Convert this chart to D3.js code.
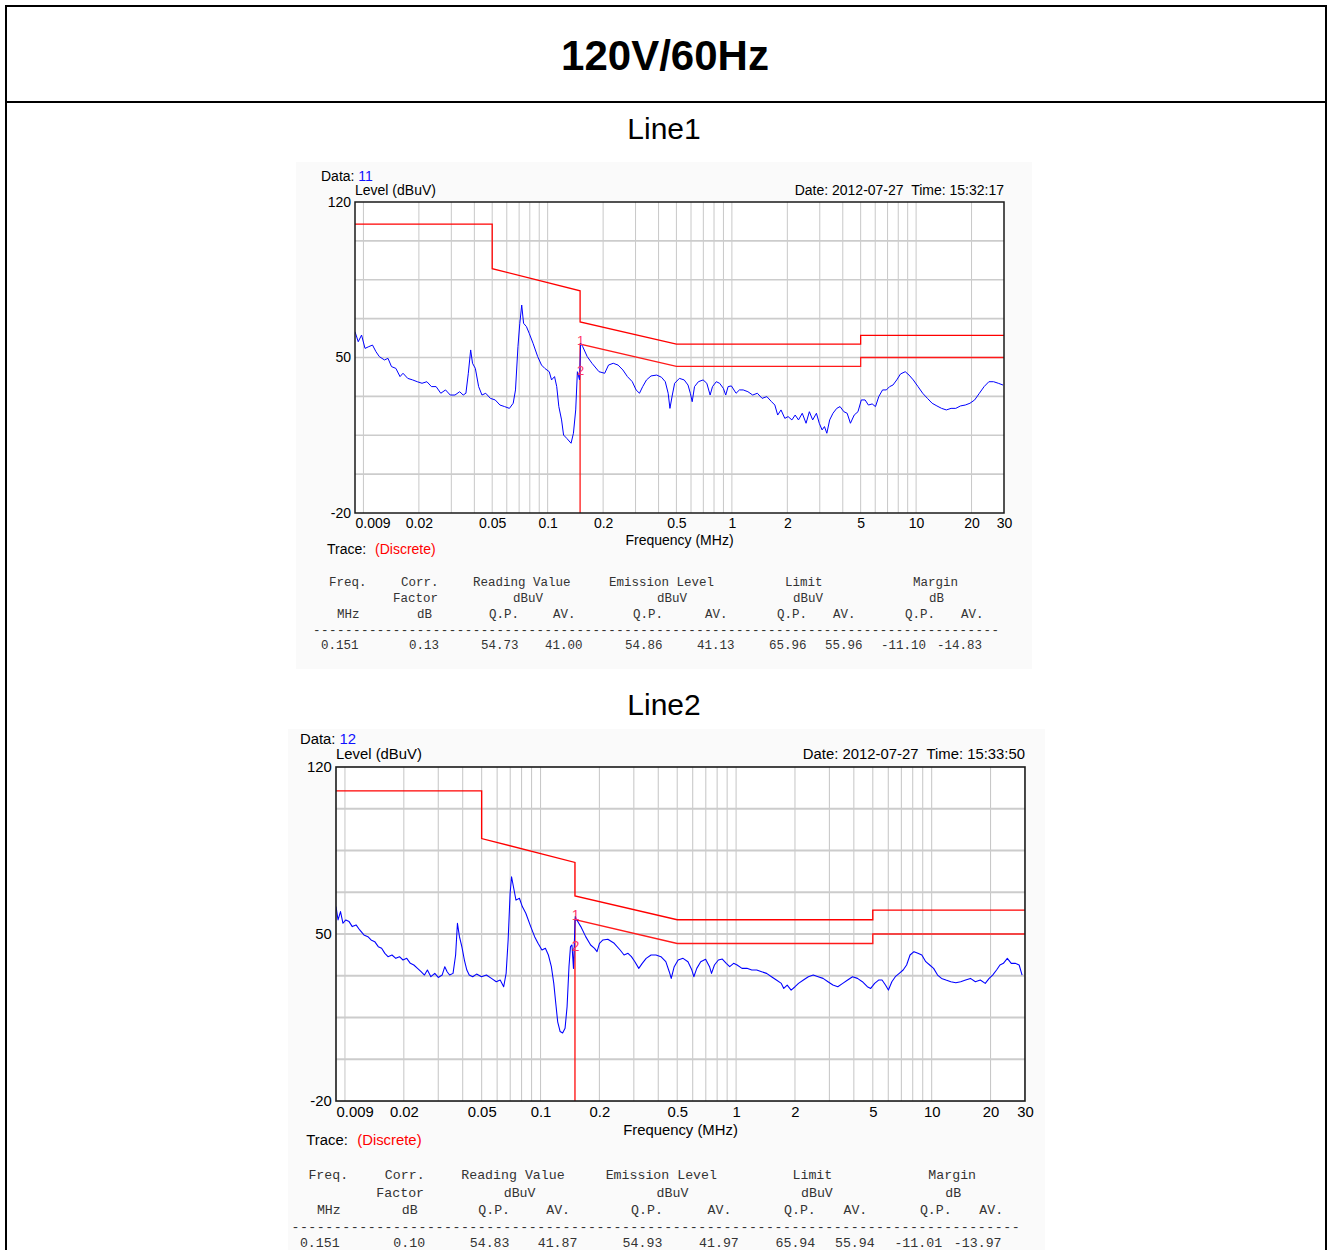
<!DOCTYPE html>
<html>
<head>
<meta charset="utf-8">
<script src="https://cdn.jsdelivr.net/npm/d3@7"></script>
<style>
body { margin: 0; background: #fff; }
</style>
</head>
<body>
<div id="chart"></div>
<script>
// ---- data ----
var trace1 = [
  [0.009,61.6],[0.00937,57.1],[0.00977,60.1],[0.0102,54.1],[0.0107,54.9],[0.0112,55.6],[0.0117,52.6],[0.0122,50.4],
  [0.0130,48.9],[0.0136,49.6],[0.0142,45.9],[0.0150,45.1],[0.0158,41.4],[0.0164,42.9],[0.0174,40.6],[0.0185,39.9],
  [0.0196,39.1],[0.0208,38.4],[0.0221,39.1],[0.0234,36.9],[0.0248,36.9],[0.0263,33.9],[0.0279,35.4],[0.0296,33.1],
  [0.0314,33.1],[0.0333,34.6],[0.0348,33.1],[0.0360,33.9],[0.0371,42.9],[0.0382,53.4],[0.0391,47.4],[0.0405,45.1],
  [0.0422,36.9],[0.0440,33.1],[0.0461,33.9],[0.0489,31.6],[0.0519,30.9],[0.0551,28.6],[0.0584,27.9],[0.0620,27.1],
  [0.0650,29.4],[0.0669,35.4],[0.0690,54.9],[0.0706,65.4],[0.0723,73.6],[0.0740,65.4],[0.0767,63.9],[0.0794,60.9],
  [0.0833,56.4],[0.0883,50.4],[0.0926,46.6],[0.0965,45.1],[0.102,43.6],[0.105,39.9],[0.109,41.4],[0.112,36.9],
  [0.115,27.9],[0.119,21.9],[0.122,15.1],[0.127,13.6],[0.134,11.4],[0.138,15.9],[0.142,26.4],[0.145,43.6],
  [0.149,39.9],[0.151,56.5],[0.155,54.9],[0.164,50.4],[0.174,47.4],[0.190,43.6],[0.204,42.9],[0.214,46.6],
  [0.227,47.4],[0.241,46.6],[0.256,44.4],[0.271,41.4],[0.288,39.1],[0.302,35.4],[0.315,33.9],[0.328,36.9],
  [0.344,39.9],[0.364,41.7],[0.391,42.1],[0.415,41.1],[0.435,39.1],[0.451,33.9],[0.461,27.1],[0.475,33.1],
  [0.489,38.4],[0.519,40.6],[0.551,39.9],[0.578,37.6],[0.595,33.9],[0.609,30.1],[0.627,36.9],[0.658,39.1],
  [0.698,39.9],[0.731,38.4],[0.762,33.1],[0.785,36.9],[0.823,39.1],[0.858,38.4],[0.899,36.1],[0.926,33.1],
  [0.954,36.9],[0.994,37.2],[1.054,33.9],[1.099,35.4],[1.152,35.4],[1.222,34.6],[1.297,33.1],[1.375,33.9],
  [1.459,31.6],[1.548,32.4],[1.642,30.1],[1.711,28.6],[1.773,24.1],[1.848,26.4],[1.938,22.6],[2.019,23.4],
  [2.117,21.9],[2.206,24.1],[2.299,21.9],[2.410,24.9],[2.527,20.4],[2.634,25.6],[2.745,21.9],[2.877,24.9],
  [2.981,20.4],[3.088,17.4],[3.181,18.9],[3.277,15.9],[3.395,21.9],[3.538,24.9],[3.709,27.1],[3.866,27.9],
  [4.053,25.6],[4.224,24.9],[4.401,20.4],[4.614,24.1],[4.837,25.6],[5.042,30.9],[5.285,30.9],[5.508,28.6],
  [5.775,29.1],[6.018,27.9],[6.272,32.4],[6.575,35.4],[6.894,35.4],[7.185,36.9],[7.488,37.6],[7.851,39.9],
  [8.231,42.6],[8.730,43.6],[9.153,42.1],[9.652,39.9],[10.24,36.9],[10.86,33.9],[11.52,31.6],[12.22,29.4],
  [12.97,28.2],[13.75,27.1],[14.59,26.4],[15.48,27.1],[16.42,27.1],[17.42,28.2],[18.48,28.6],[19.60,29.4],
  [20.79,30.9],[22.06,33.9],[23.40,36.9],[24.83,39.1],[26.34,39.1],[27.94,38.4],[29.64,37.6]
];

var trace2 = [
  [0.009,61.5],[0.00922,55.9],[0.00949,59.4],[0.00977,54.5],[0.0101,55.9],[0.0105,55.2],[0.0109,53.1],[0.0114,53.8],
  [0.0119,51.7],[0.0125,49.6],[0.0131,48.9],[0.0136,47.5],[0.0142,46.8],[0.0148,44.7],[0.0154,44.0],[0.0160,41.9],
  [0.0166,40.5],[0.0174,41.2],[0.0182,39.8],[0.0190,40.5],[0.0198,39.1],[0.0207,39.8],[0.0216,37.7],[0.0225,37.0],
  [0.0235,35.6],[0.0245,34.2],[0.0255,32.8],[0.0264,34.9],[0.0275,32.1],[0.0288,33.5],[0.0300,31.8],[0.0314,32.8],
  [0.0324,36.3],[0.0333,34.2],[0.0343,32.8],[0.0357,33.5],[0.0368,41.2],[0.0376,54.5],[0.0385,48.9],[0.0396,44.7],
  [0.0408,39.1],[0.0420,34.9],[0.0432,32.8],[0.0450,32.1],[0.0471,33.2],[0.0499,32.1],[0.0529,32.8],[0.0561,31.4],
  [0.0594,30.0],[0.0622,30.7],[0.0648,27.9],[0.0667,33.5],[0.0683,47.5],[0.0699,67.0],[0.0711,74.0],[0.0727,69.8],
  [0.0749,64.2],[0.0780,65.0],[0.0807,61.5],[0.0841,58.7],[0.0891,53.1],[0.0933,48.9],[0.0971,46.1],[0.1017,43.3],
  [0.1059,44.0],[0.1097,41.2],[0.1136,36.3],[0.1169,29.3],[0.1197,20.9],[0.1224,13.2],[0.1260,9.1],[0.1297,8.5],
  [0.1335,10.5],[0.1367,19.5],[0.1398,36.3],[0.1423,44.7],[0.1448,45.4],[0.1474,35.6],[0.1505,57.3],[0.1534,55.9],
  [0.1607,53.1],[0.1702,48.9],[0.1804,45.4],[0.1889,44.0],[0.1945,42.6],[0.2002,46.1],[0.2085,47.5],[0.2209,47.8],
  [0.2381,46.1],[0.2553,43.3],[0.2674,41.2],[0.2801,41.9],[0.2916,40.5],[0.3037,38.4],[0.3180,35.6],[0.3312,37.7],
  [0.3469,39.8],[0.3675,41.2],[0.3895,41.2],[0.4127,40.5],[0.4372,38.4],[0.4553,34.2],[0.4660,31.4],[0.4826,36.3],
  [0.5054,39.1],[0.5355,39.8],[0.5674,38.4],[0.5941,34.9],[0.6080,32.1],[0.6295,35.6],[0.6593,38.4],[0.6985,39.4],
  [0.7315,36.3],[0.7487,33.5],[0.7750,37.0],[0.8119,39.1],[0.8504,39.5],[0.8907,37.7],[0.9275,36.3],[0.9714,37.7],
  [1.012,37.0],[1.072,35.6],[1.136,35.6],[1.203,34.9],[1.275,34.9],[1.351,34.2],[1.432,33.5],[1.517,32.1],
  [1.607,30.7],[1.703,29.3],[1.753,27.2],[1.825,28.6],[1.912,26.5],[2.002,27.9],[2.085,29.3],[2.209,30.7],
  [2.341,32.1],[2.480,32.8],[2.628,32.1],[2.784,31.4],[2.950,30.0],[3.126,28.6],[3.312,27.9],[3.510,29.3],
  [3.719,30.7],[3.940,32.1],[4.175,31.4],[4.423,30.0],[4.688,27.9],[4.880,27.2],[5.110,29.3],[5.353,30.7],
  [5.575,30.7],[5.805,28.6],[6.010,26.5],[6.258,30.0],[6.518,32.1],[6.827,33.5],[7.150,34.9],[7.445,37.0],
  [7.752,41.2],[8.120,42.6],[8.504,41.9],[8.906,41.2],[9.329,38.4],[9.770,37.0],[10.23,35.6],[10.72,32.8],
  [11.23,31.4],[11.83,30.7],[12.53,30.0],[13.28,29.6],[14.07,30.0],[14.91,30.7],[15.79,31.4],[16.73,30.0],
  [17.73,30.7],[18.79,29.3],[19.68,31.4],[20.50,32.8],[21.47,34.9],[22.35,37.0],[23.27,37.7],[24.37,39.8],
  [25.53,37.7],[26.74,37.7],[28.01,37.0],[29.00,32.8]
];

// limit lines (MHz, dBuV)
var qpLimit = [[0.009,110],[0.05,110],[0.05,90],[0.15,80],[0.15,66],[0.5,56],[5,56],[5,60],[30,60]];
var avLimit = [[0.15,-20],[0.15,56],[0.5,46],[5,46],[5,50],[30,50]];

var markers1 = [{label: "1", f: 0.151, v: 54.86}, {label: "2", f: 0.151, v: 41.13}];
var markers2 = [{label: "1", f: 0.151, v: 54.93}, {label: "2", f: 0.151, v: 41.97}];

var xTicks = [0.009, 0.02, 0.05, 0.1, 0.2, 0.5, 1, 2, 5, 10, 20, 30];
var xTickLabels = ["0.009", "0.02", "0.05", "0.1", "0.2", "0.5", "1", "2", "5", "10", "20", "30"];
var yTicks = [120, 50, -20];
var vGrid = [0.01,0.02,0.03,0.04,0.05,0.06,0.07,0.08,0.09,0.1,0.2,0.3,0.4,0.5,0.6,0.7,0.8,0.9,1,2,3,4,5,6,7,8,9,10,20];
var hGrid = [102.5, 85, 67.5, 50, 32.5, 15, -2.5];

var tableHead1 = ["Freq.", "Corr.", "Reading Value", "Emission Level", "Limit", "Margin"];
var tableHead2 = ["Factor", "dBuV", "dBuV", "dBuV", "dB"];
var tableHead3 = ["MHz", "dB", "Q.P.", "AV.", "Q.P.", "AV.", "Q.P.", "AV.", "Q.P.", "AV."];
var row1 = ["0.151", "0.13", "54.73", "41.00", "54.86", "41.13", "65.96", "55.96", "-11.10", "-14.83"];
var row2 = ["0.151", "0.10", "54.83", "41.87", "54.93", "41.97", "65.94", "55.94", "-11.01", "-13.97"];

// column positions (in characters) of the fixed-width table
var head1Cols = [2, 11, 20, 37, 59, 75];
var head2Cols = [10, 25, 43, 60, 77];
var head3Cols = [3, 13, 22, 30, 40, 49, 58, 65, 74, 81];
var rowCols = [1, 12, 21, 29, 39, 48, 57, 64, 71, 78];

var sans = "'Liberation Sans', Arial, sans-serif";
var mono = "'Liberation Mono', 'Courier New', monospace";

var plotW = 649, plotH = 311;
var x = d3.scaleLog().domain([0.009, 30]).range([0, plotW]);
var y = d3.scaleLinear().domain([-20, 120]).range([plotH, 0]);

var charts = [
    {name: "Line1", nameY: 139, panel: {x: 296, y: 162, w: 736, h: 507}, origin: [355, 202], scale: [1, 1],
     dataNo: "11", stamp: "Date: 2012-07-27  Time: 15:32:17", trace: trace1, markers: markers1, row: row1},
    {name: "Line2", nameY: 715, panel: {x: 288, y: 729, w: 757, h: 530}, origin: [336, 767], scale: [1.0616, 1.074],
     dataNo: "12", stamp: "Date: 2012-07-27  Time: 15:33:50", trace: trace2, markers: markers2, row: row2}
];

var svg = d3.select("#chart").append("svg").attr("width", 1332).attr("height", 1250)
    .style("font-family", sans);

// outer frame + heading
svg.append("rect").attr("x", 6).attr("y", 6).attr("width", 1320).attr("height", 1270)
    .attr("fill", "none").attr("stroke", "#000").attr("stroke-width", 2);
svg.append("line").attr("x1", 6).attr("x2", 1326).attr("y1", 102).attr("y2", 102)
    .attr("stroke", "#000").attr("stroke-width", 2);
svg.append("text").text("120V/60Hz").attr("x", 665).attr("y", 70).attr("text-anchor", "middle")
    .attr("font-size", 42).attr("font-weight", "bold");

var line = d3.line().x(function(d) { return x(d[0]); }).y(function(d) { return y(d[1]); });

function drawChart(c, idx) {
    svg.append("text").text(c.name).attr("x", 664).attr("y", c.nameY).attr("text-anchor", "middle")
        .attr("font-size", 30);
    svg.append("rect").attr("x", c.panel.x).attr("y", c.panel.y).attr("width", c.panel.w).attr("height", c.panel.h)
        .attr("fill", "#fafafa");

    var g = svg.append("g")
        .attr("transform", "translate(" + c.origin[0] + "," + c.origin[1] + ") scale(" + c.scale[0] + "," + c.scale[1] + ")");

    g.append("clipPath").attr("id", "clip" + idx).append("rect").attr("width", plotW).attr("height", plotH);
    g.append("rect").attr("width", plotW).attr("height", plotH).attr("fill", "#fff");

    g.selectAll(".vg").data(vGrid).enter().append("line").attr("class", "vg")
        .attr("x1", function(d) { return x(d); }).attr("x2", function(d) { return x(d); })
        .attr("y1", 0).attr("y2", plotH).attr("stroke", "#c8c8c8").attr("stroke-width", 1);
    g.selectAll(".hg").data(hGrid).enter().append("line").attr("class", "hg")
        .attr("x1", 0).attr("x2", plotW)
        .attr("y1", function(d) { return y(d); }).attr("y2", function(d) { return y(d); })
        .attr("stroke", "#cccccc").attr("stroke-width", 1.7);

    var plot = g.append("g").attr("clip-path", "url(#clip" + idx + ")");
    plot.append("path").datum(qpLimit).attr("d", line).attr("fill", "none").attr("stroke", "#ff0000").attr("stroke-width", 1.3);
    plot.append("path").datum(avLimit).attr("d", line).attr("fill", "none").attr("stroke", "#ff1a1a").attr("stroke-width", 1.3);
    plot.append("path").datum(c.trace).attr("d", line).attr("fill", "none").attr("stroke", "#0000ff")
        .attr("stroke-width", 1).attr("stroke-linejoin", "round");

    g.selectAll(".mk").data(c.markers).enter().append("text").attr("class", "mk")
        .text(function(d) { return d.label; })
        .attr("x", function(d) { return x(d.f); }).attr("y", function(d) { return y(d.v) - 2; })
        .attr("text-anchor", "middle").attr("font-size", 13).attr("fill", "#ff3366");

    g.append("rect").attr("width", plotW).attr("height", plotH).attr("fill", "none")
        .attr("stroke", "#1a1a1a").attr("stroke-width", 1.5);

    // axes
    var ax = g.append("g").attr("transform", "translate(0," + plotH + ")")
        .call(d3.axisBottom(x).tickValues(xTicks).tickSize(0).tickPadding(5)
            .tickFormat(function(d) { return xTickLabels[xTicks.indexOf(d)]; }));
    ax.attr("font-size", 14).attr("font-family", sans);
    ax.select(".domain").remove();
    ax.selectAll("text").attr("fill", "#000");
    ax.selectAll(".tick text").filter(function(d) { return d === xTicks[0]; }).attr("text-anchor", "start");

    var ay = g.append("g").call(d3.axisLeft(y).tickValues(yTicks).tickSize(0).tickPadding(4)
        .tickFormat(function(d) { return String(d); }));
    ay.attr("font-size", 14).attr("font-family", sans);
    ay.select(".domain").remove();
    ay.selectAll("text").attr("fill", "#000");

    // header texts
    var dt = g.append("text").attr("x", -34).attr("y", -21).attr("font-size", 14).attr("fill", "#000");
    dt.append("tspan").text("Data: ");
    dt.append("tspan").text(c.dataNo).attr("fill", "#1010ff");
    g.append("text").text("Level (dBuV)").attr("x", 0).attr("y", -7).attr("font-size", 14).attr("fill", "#000");
    g.append("text").text(c.stamp).attr("x", plotW).attr("y", -7).attr("text-anchor", "end")
        .attr("font-size", 14).attr("fill", "#000").style("white-space", "pre");
    g.append("text").text("Frequency (MHz)").attr("x", plotW / 2).attr("y", 343).attr("text-anchor", "middle")
        .attr("font-size", 14).attr("fill", "#000");
    g.append("text").text("Trace:").attr("x", -28).attr("y", 352).attr("font-size", 14).attr("fill", "#000");
    g.append("text").text("(Discrete)").attr("x", 20).attr("y", 352).attr("font-size", 14).attr("fill", "#ff0000");

    // fixed-width result table
    var cw = 8, tx = -42;
    var tbl = g.append("g").attr("font-family", mono).attr("font-size", 12.5).attr("fill", "#333");
    function rowText(items, cols, yy) {
        return tbl.selectAll(null).data(items).enter().append("text")
            .text(function(d) { return d; })
            .attr("x", function(d, i) { return tx + cols[i] * cw; })
            .attr("y", yy);
    }
    rowText(tableHead1, head1Cols, 384);
    rowText(tableHead2, head2Cols, 400);
    rowText(tableHead3, head3Cols, 416);
    rowText(["-".repeat(86)], [0], 432).attr("textLength", 86 * cw - 2).attr("lengthAdjust", "spacing");
    rowText(c.row, rowCols, 447);
}

charts.forEach(drawChart);
</script>
</body>
</html>
